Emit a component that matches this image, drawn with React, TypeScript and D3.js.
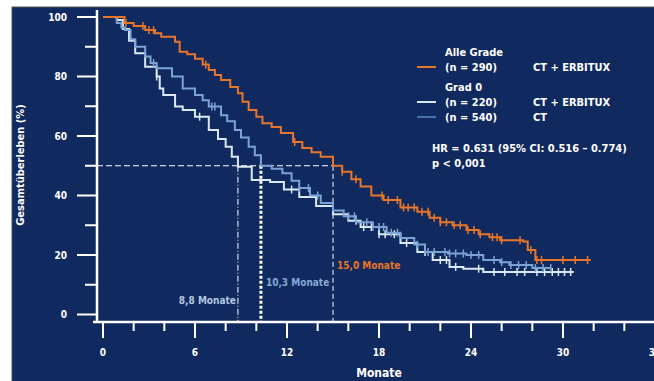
import * as d3 from "d3";

// Kaplan-Meier points: [month, survival %]
const allGradesErbitux: [number, number][] = [
  [0, 100], [1.4, 98], [2.0, 97], [2.75, 95.6], [3.4, 94.5], [3.8, 93.4], [4.7, 91.7],
  [5.0, 88.3], [5.5, 87.5], [6.0, 86], [6.5, 84], [6.9, 82.2], [7.3, 80.5], [7.7, 78.8],
  [8.3, 76.5], [8.8, 74.4], [9.1, 71.5], [9.5, 68.7], [10.0, 66.5], [10.4, 64.3],
  [11.0, 63], [11.6, 61], [12.4, 58], [13.0, 56], [13.6, 54.5], [14.2, 53], [15.0, 50],
  [15.6, 48], [16.2, 45.5], [16.8, 43], [17.5, 40], [18.3, 38.5], [19.4, 36],
  [20.5, 34.5], [21.3, 32.5], [22.0, 31], [22.8, 30], [23.7, 28.4], [24.5, 27],
  [25.2, 26], [25.9, 25], [27.4, 24.5], [27.7, 21.7], [28.2, 18.3], [31.8, 18.3],
];

const grade0Ct: [number, number][] = [
  [0, 100], [0.9, 98], [1.2, 96.5], [1.43, 95.6], [1.8, 92.5], [2.1, 90], [2.75, 86.7],
  [3.1, 84.5], [3.5, 82.8], [4.5, 80], [5.2, 76], [6.0, 73.8], [6.5, 72], [6.9, 69.9],
  [7.7, 67], [8.1, 65], [8.6, 62], [9.0, 59.5], [9.5, 56.4], [9.9, 53.5], [10.3, 50],
  [11.0, 49], [11.7, 47.5], [12.3, 45], [12.8, 42.5], [13.5, 40], [14.2, 37.5],
  [15.0, 35], [15.7, 33], [16.5, 31], [17.6, 29.4], [18.5, 27.5], [19.4, 25.7],
  [20.3, 23.5], [21.0, 21], [22.5, 20.5], [23.7, 20], [24.8, 18.3], [25.9, 17.6],
  [26.5, 16.6], [28.0, 15.6], [29.2, 15.6],
];

const grade0Erbitux: [number, number][] = [
  [0, 100], [0.9, 99], [1.3, 96], [1.7, 92], [2.1, 87.8], [2.75, 83.3], [3.5, 80],
  [3.7, 76], [3.93, 73.8], [4.7, 69.9], [5.2, 68.7], [6.0, 66.5], [6.9, 62],
  [7.5, 59], [8.0, 56.4], [8.4, 53], [8.8, 49.7], [9.7, 45.2], [10.9, 44.5],
  [11.8, 42], [12.8, 39.5], [13.9, 36.5], [15.0, 33.7], [16.0, 31.5], [16.8, 29.4],
  [18.0, 27], [19.4, 24], [20.5, 21], [21.5, 18.3], [22.6, 16], [23.5, 15.4],
  [24.8, 14.3], [30.7, 14.3],
];

const censorAll = [1.5, 2.6, 3.0, 3.3, 6.7, 12.5, 15.6, 16.5, 18.2, 18.6, 19.2, 19.6, 19.9,
  20.3, 20.8, 21.2, 21.6, 22.0, 22.4, 22.9, 23.3, 23.8, 24.2, 24.6, 25.4, 25.7, 26.0,
  27.2, 27.9, 28.3, 28.6, 30.0, 30.8, 31.6];
const censorCt = [3.3, 7.1, 7.3, 12.8, 13.4, 14.0, 16.0, 16.4, 17.2, 17.6, 18.0, 18.3, 18.8,
  19.2, 20.5, 21.2, 21.6, 22.3, 22.6, 23.0, 23.5, 24.0, 24.5, 25.5, 26.0, 26.6, 27.1,
  27.6, 28.2, 28.7, 29.2];
const censorErb = [3.5, 6.3, 12.3, 16.5, 17.0, 17.5, 18.0, 18.4, 19.0, 19.8, 21.0, 22.0,
  22.4, 23.0, 24.5, 25.5, 26.2, 27.0, 27.5, 28.3, 28.8, 29.3, 29.7, 30.1, 30.5];

const xTicks = [0, 6, 12, 18, 24, 30, 36];
const xMinor = [2, 4, 8, 10, 14, 16, 20, 22, 26, 28, 32, 34];
const yTicks = [0, 20, 40, 60, 80, 100];
const yMinor = [10, 30, 50, 70, 90];

const medians = [
  { m: 8.8, label: "8,8 Monate", color: "#b3c6e0" },
  { m: 10.3, label: "10,3 Monate", color: "#86a9d6" },
  { m: 15.0, label: "15,0 Monate", color: "#e8762a" },
];

const ORANGE = "#e8762a";
const MID = "#7ba3d3";
const PALE = "#dbe8f5";
const BG = "#10295e";
const FONT = "'Liberation Sans Narrow', 'DejaVu Sans Condensed', 'Liberation Sans', sans-serif";

const x = d3.scaleLinear().domain([0, 36]).range([103, 655]);
const y = d3.scaleLinear().domain([0, 100]).range([314.5, 17]);

const line = d3.line<[number, number]>()
  .x((d) => x(d[0]))
  .y((d) => y(d[1]))
  .curve(d3.curveStepAfter);

function valueAt(data: [number, number][], t: number) {
  let v = data[0][1];
  for (const p of data) if (p[0] <= t) v = p[1];
  return v;
}

function Curve({ data, censors, color }: { data: [number, number][]; censors: number[]; color: string }) {
  return (
    <g>
      <path d={line(data) ?? ""} fill="none" stroke={color} strokeWidth={2} />
      {censors.map((c, i) => (
        <line key={i} x1={x(c)} x2={x(c)} y1={y(valueAt(data, c)) - 4} y2={y(valueAt(data, c)) + 4}
          stroke={color} strokeWidth={1.5} />
      ))}
    </g>
  );
}

export default function App() {
  const y50 = y(50);
  const yAxisBottom = 322;
  return (
    <svg width={654} height={381} style={{ position: "absolute", left: 0, top: 0 }} fontFamily={FONT}>
      <rect x={0} y={0} width={654} height={381} fill="#fff" />
      <rect x={12} y={7} width={650} height={380} fill={BG} stroke="#555" strokeWidth={1} />

      {/* axes */}
      <line x1={97} x2={97} y1={10} y2={yAxisBottom} stroke="#fff" strokeWidth={2.5} />
      <line x1={93} x2={654} y1={yAxisBottom} y2={yAxisBottom} stroke="#fff" strokeWidth={2.5} />
      {yTicks.map((t) => (
        <g key={t}>
          <line x1={77} x2={96} y1={y(t)} y2={y(t)} stroke="#fff" strokeWidth={2} />
          <text x={67} y={y(t)} dy="0.35em" textAnchor="end" fill="#fff" fontSize={10} fontWeight="bold">{t}</text>
        </g>
      ))}
      {yMinor.map((t) => (
        <line key={t} x1={85} x2={96} y1={y(t)} y2={y(t)} stroke="#fff" strokeWidth={2} />
      ))}
      {xTicks.map((t) => (
        <g key={t}>
          <line x1={x(t)} x2={x(t)} y1={yAxisBottom} y2={338} stroke="#fff" strokeWidth={2} />
          <text x={x(t)} y={352} dy="0.35em" textAnchor="middle" fill="#fff" fontSize={10} fontWeight="bold">{t}</text>
        </g>
      ))}
      {xMinor.map((t) => (
        <line key={t} x1={x(t)} x2={x(t)} y1={yAxisBottom} y2={331} stroke="#fff" strokeWidth={2} />
      ))}
      <text x={x(18)} y={373} dy="0.35em" textAnchor="middle" fill="#fff" fontSize={12} fontWeight="bold">Monate</text>
      <text transform={`translate(20,165) rotate(-90)`} dy="0.35em" textAnchor="middle" fill="#fff" fontSize={11} fontWeight="bold">
        Gesamtüberleben (%)
      </text>

      {/* median guides */}
      <line x1={97} x2={x(15.0)} y1={y50} y2={y50} stroke="#fff" strokeWidth={1} strokeDasharray="6,3" />
      <line x1={x(8.8)} x2={x(8.8)} y1={y50} y2={yAxisBottom} stroke="#fff" strokeWidth={1} strokeDasharray="6,2,1,2" />
      <line x1={x(10.3)} x2={x(10.3)} y1={y50} y2={yAxisBottom} stroke="#fff" strokeWidth={3} strokeDasharray="3,2" />
      <line x1={x(15.0)} x2={x(15.0)} y1={y50} y2={yAxisBottom} stroke="#fff" strokeWidth={1} strokeDasharray="5,3" />

      <Curve data={grade0Erbitux} censors={censorErb} color={PALE} />
      <Curve data={grade0Ct} censors={censorCt} color={MID} />
      <Curve data={allGradesErbitux} censors={censorAll} color={ORANGE} />

      <text x={x(8.8) - 2} y={300} dy="0.35em" textAnchor="end" fill={medians[0].color} fontSize={10} fontWeight="bold">{medians[0].label}</text>
      <text x={x(10.3) + 5} y={282} dy="0.35em" fill={medians[1].color} fontSize={10} fontWeight="bold">{medians[1].label}</text>
      <text x={x(15.0) + 4} y={265} dy="0.35em" fill={medians[2].color} fontSize={10} fontWeight="bold">{medians[2].label}</text>

      {/* legend */}
      <g fill="#fff" fontSize={11} fontWeight="bold">
        <text x={445} y={52} dy="0.35em">Alle Grade</text>
        <line x1={417} x2={436} y1={67} y2={67} stroke={ORANGE} strokeWidth={2} />
        <text x={445} y={67} dy="0.35em">(n = 290)</text>
        <text x={533} y={67} dy="0.35em">CT + ERBITUX</text>
        <text x={445} y={87} dy="0.35em">Grad 0</text>
        <line x1={417} x2={436} y1={102} y2={102} stroke={PALE} strokeWidth={2} />
        <text x={445} y={102} dy="0.35em">(n = 220)</text>
        <text x={533} y={102} dy="0.35em">CT + ERBITUX</text>
        <line x1={417} x2={436} y1={117} y2={117} stroke="#5b87c2" strokeWidth={1.5} />
        <text x={445} y={117} dy="0.35em">(n = 540)</text>
        <text x={533} y={117} dy="0.35em">CT</text>
        <text x={432} y={148} dy="0.35em">HR = 0.631 (95% CI: 0.516 – 0.774)</text>
        <text x={432} y={163} dy="0.35em">p &lt; 0,001</text>
      </g>
    </svg>
  );
}
